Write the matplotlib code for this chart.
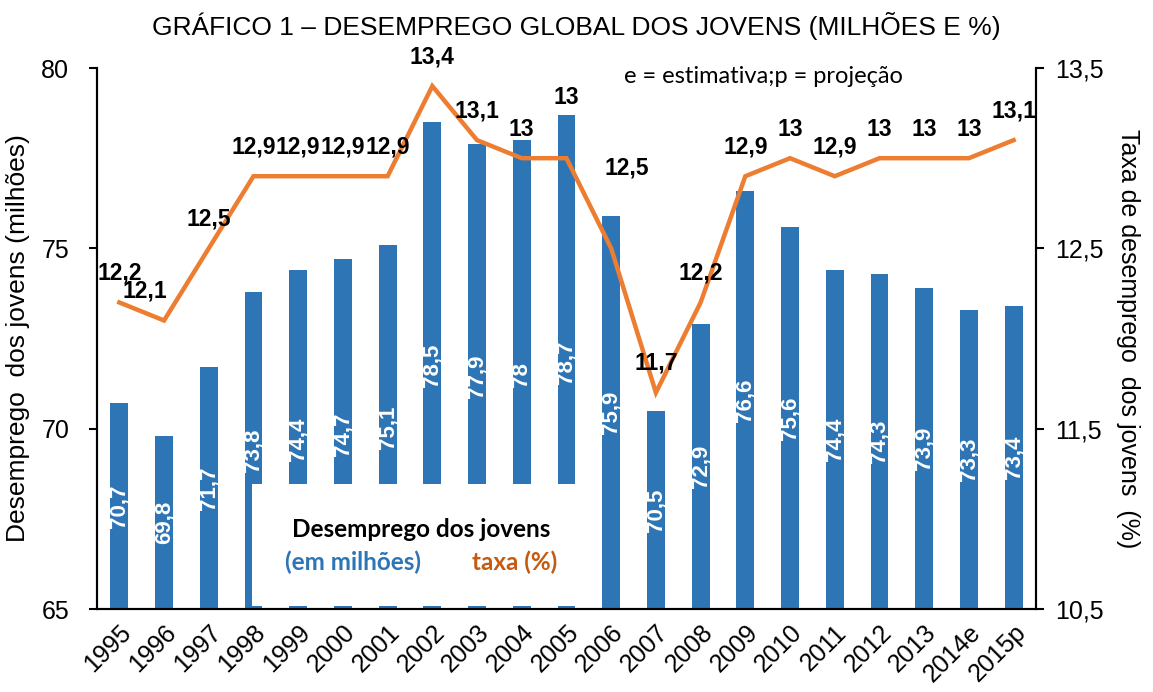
import matplotlib.pyplot as plt
from matplotlib.patches import Rectangle

plt.rcParams['font.family'] = ['Liberation Sans', 'DejaVu Sans']

anos = ['1995', '1996', '1997', '1998', '1999', '2000', '2001', '2002', '2003', '2004',
        '2005', '2006', '2007', '2008', '2009', '2010', '2011', '2012', '2013', '2014e', '2015p']
milhoes = [70.7, 69.8, 71.7, 73.8, 74.4, 74.7, 75.1, 78.5, 77.9, 78.0,
           78.7, 75.9, 70.5, 72.9, 76.6, 75.6, 74.4, 74.3, 73.9, 73.3, 73.4]
taxa = [12.2, 12.1, 12.5, 12.9, 12.9, 12.9, 12.9, 13.4, 13.1, 13.0,
        13.0, 12.5, 11.7, 12.2, 12.9, 13.0, 12.9, 13.0, 13.0, 13.0, 13.1]

azul = '#2E75B6'
laranja = '#ED7D31'

def virgula(v):
    s = ('%.1f' % v).replace('.', ',')
    return s[:-2] if s.endswith(',0') else s

fig = plt.figure(figsize=(11.53, 6.92), dpi=100)
ax = fig.add_axes([0.0841, 0.1199, 0.8144, 0.7818])
ax2 = ax.twinx()

x = list(range(len(anos)))
ax.bar(x, milhoes, width=0.4, color=azul, zorder=2)
ax.set_ylim(65, 80)
ax.set_xlim(-0.5, len(anos) - 0.5)
ax.set_yticks([65, 70, 75, 80])
ax.set_xticks(x)
ax.set_xticklabels(anos, rotation=45, ha='right', rotation_mode='anchor', fontsize=18)
ax.tick_params(axis='x', length=0, pad=8)
ax.tick_params(axis='y', labelsize=18, length=6, width=1.5, pad=14)
ax.set_ylabel('Desemprego  dos jovens (milhões)', fontsize=19, labelpad=8)

# rótulos das barras, no meio da barra
for i, v in enumerate(milhoes):
    ax.text(i, (v + 65) / 2, virgula(v), rotation=90, ha='center', va='center',
            color='white', fontsize=16, fontweight='bold', zorder=3)

# caixa branca da legenda
ax.add_patch(Rectangle((2.97, 65.08), 10.8 - 2.97, 68.47 - 65.08,
                       facecolor='white', edgecolor='none', zorder=4))
ax.text(6.75, 67.2, 'Desemprego dos jovens', ha='center', va='center', fontsize=17.5,
        fontweight='bold', family=['Lato', 'DejaVu Sans'], zorder=5)
ax.text(5.22, 66.3, '(em milhões)', ha='center', va='center', fontsize=17.5,
        fontweight='bold', color=azul, family=['Lato', 'DejaVu Sans'], zorder=5)
ax.text(8.85, 66.3, 'taxa (%)', ha='center', va='center', fontsize=17.5,
        fontweight='bold', color='#C55A11', family=['Lato', 'DejaVu Sans'], zorder=5)

ax2.plot(x, taxa, color=laranja, linewidth=3.2, solid_joinstyle='miter')
ax2.set_ylim(10.5, 13.5)
ax2.set_yticks([10.5, 11.5, 12.5, 13.5])
ax2.set_yticklabels([virgula(t) for t in [10.5, 11.5, 12.5, 13.5]])
ax2.tick_params(axis='y', labelsize=18, length=6, width=1.5, pad=8)
ax2.set_ylabel('Taxa de desemprego  dos jovens  (%)', fontsize=18, rotation=270,
               labelpad=26)

# deslocamentos manuais de alguns rótulos da linha (pontos)
ajuste = {1: (-14, 0), 10: (0, 23), 11: (11, 37)}
for i, t in enumerate(taxa):
    dx, dy = ajuste.get(i, (0, 0))
    ax2.annotate(virgula(t), (i, t), xytext=(dx, 21 + dy), textcoords='offset points',
                 ha='center', va='center', fontsize=16.5, fontweight='bold')

for a in (ax, ax2):
    a.spines['top'].set_visible(False)
    for s in ('left', 'right', 'bottom'):
        a.spines[s].set_linewidth(1.5)

fig.text(0.5, 0.963, 'GRÁFICO 1 – DESEMPREGO GLOBAL DOS JOVENS (MILHÕES E %)',
         ha='center', va='center', fontsize=19)
ax.text(0.561, 0.985, 'e = estimativa;p = projeção', transform=ax.transAxes,
        ha='left', va='center', fontsize=17, family=['Lato', 'DejaVu Sans'])

fig.savefig('out.png', dpi=100)
